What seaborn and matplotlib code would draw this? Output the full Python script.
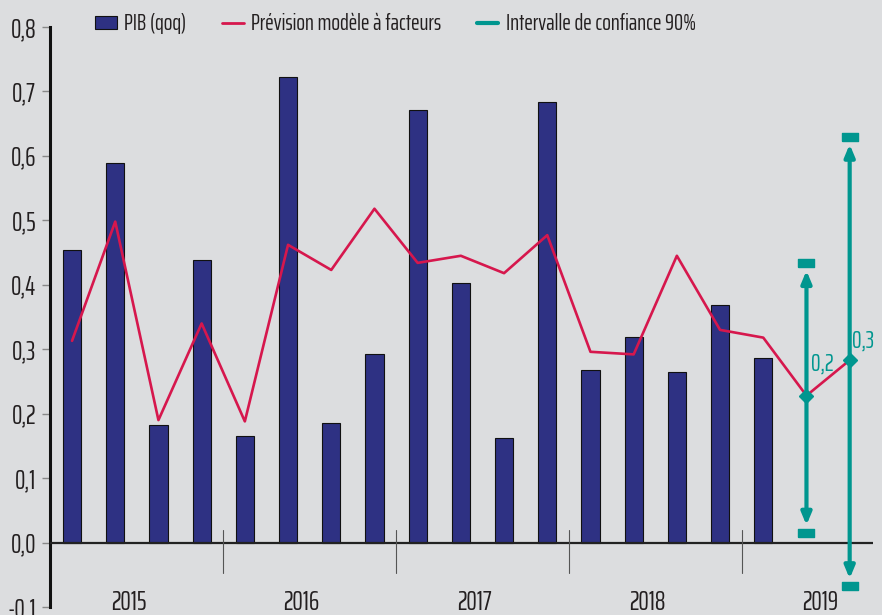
import matplotlib
matplotlib.use("Agg")
import matplotlib.pyplot as plt
import seaborn as sns
import pandas as pd
import numpy as np
from matplotlib.patches import Patch
from matplotlib.lines import Line2D

# ---- data ----
years = ["2015", "2016", "2017", "2018", "2019"]
pib_qoq = [0.454, 0.589, 0.183, 0.439,
           0.166, 0.722, 0.186, 0.293,
           0.671, 0.403, 0.163, 0.684,
           0.268, 0.319, 0.265, 0.369,
           0.287]
prevision = [0.313, 0.498, 0.190, 0.340,
             0.188, 0.462, 0.423, 0.518,
             0.434, 0.445, 0.418, 0.477,
             0.296, 0.292, 0.445, 0.330,
             0.318, 0.228, 0.283]
forecast_labels = ["0,2", "0,3"]
ci_low = [0.015, -0.068]
ci_high = [0.434, 0.630]
yticks = [-0.1, 0.0, 0.1, 0.2, 0.3, 0.4, 0.5, 0.6, 0.7, 0.8]

# ---- style ----
BG = "#dcdddf"
NAVY = "#2e3183"
RED = "#d6174d"
TEAL = "#00968f"
TXT = "#231f20"
FS = 16.5
FS_AX = 19

sns.set_theme(style="white")
plt.rcParams["font.family"] = ["Saira ExtraCondensed", "DejaVu Sans"]
plt.rcParams["font.weight"] = "normal"

fig = plt.figure(figsize=(8.82, 6.15), dpi=100, facecolor=BG)
ax = fig.add_axes([50/882, (615-607)/615, (873-50)/882, (607-27)/615])
ax.set_facecolor(BG)

n_bar = len(pib_qoq)
n_line = len(prevision)
df_bar = pd.DataFrame({"q": np.arange(n_bar), "v": pib_qoq})
df_line = pd.DataFrame({"q": np.arange(n_line), "v": prevision})

sns.barplot(data=df_bar, x="q", y="v", native_scale=True, width=0.42,
            color=NAVY, saturation=1, edgecolor="#111111", linewidth=0.8, ax=ax, zorder=2)
sns.lineplot(data=df_line, x="q", y="v", color=RED, linewidth=1.9, ax=ax, zorder=3)

# confidence intervals
fq = np.arange(n_line - len(ci_low), n_line)
rect = [(-1, -0.55), (1, -0.55), (1, 0.55), (-1, 0.55), (-1, -0.55)]
for i, x in enumerate(fq):
    yc = prevision[x]
    for end in (ci_high[i], ci_low[i]):
        tip = end - 0.012 if end > yc else end + 0.012
        ax.annotate("", xy=(x, tip), xytext=(x, yc),
                    arrowprops=dict(arrowstyle="-|>,head_length=0.6,head_width=0.25",
                                    color=TEAL, lw=3, shrinkA=0, shrinkB=0),
                    annotation_clip=False, zorder=4)
    ax.plot([x, x], [ci_low[i], ci_high[i]], linestyle="none", marker=rect,
            markersize=11, color=TEAL, clip_on=False, zorder=5)
    ax.plot([x], [yc], marker="D", markersize=7, color=TEAL, clip_on=False, zorder=6)

ax.annotate(forecast_labels[0], xy=(fq[0], prevision[fq[0]]), xytext=(3, 23),
            textcoords="offset points", color=TEAL, fontsize=17.5, va="center", ha="left")
ax.annotate(forecast_labels[1], xy=(fq[1], prevision[fq[1]]), xytext=(2, 14),
            textcoords="offset points", color=TEAL, fontsize=17.5, va="center", ha="left")

# zero line and year separators
ax.axhline(0, color="#222222", lw=1.6, zorder=3)
for k in range(1, len(years)):
    ax.plot([4*k - 0.5]*2, [0.02, -0.047], color="#555555", lw=0.8, zorder=3)
for k, y in enumerate(years):
    ax.text(4*k + 1.5 - 0.19, -0.093, y, ha="center", va="center",
            fontsize=FS_AX, color=TXT)

ax.set_xlim(-0.51, 18.54)
ax.set_ylim(-0.1, 0.8)
ax.set_yticks(yticks)
ax.set_yticklabels([f"{t:.1f}".replace(".", ",") for t in yticks], fontsize=FS_AX, color=TXT)
ax.set_xticks([])
ax.set_xlabel("")
ax.set_ylabel("")
ax.tick_params(axis="y", direction="out", length=6, width=1, color="#888888", pad=4, left=True)
for s in ["top", "right", "bottom"]:
    ax.spines[s].set_visible(False)
ax.spines["left"].set_color("#111111")
ax.spines["left"].set_linewidth(2.2)

handles = [Patch(facecolor=NAVY, edgecolor="#111111", linewidth=0.8),
           Line2D([0], [0], color=RED, lw=2),
           Line2D([0], [0], color=TEAL, lw=3)]
labels = ["PIB (qoq)", "Prévision modèle à facteurs", "Intervalle de confiance 90%"]
fig.legend(handles, labels, loc="center left", bbox_to_anchor=(86/882, 1 - 24/615),
           ncol=3, frameon=False, fontsize=FS, handlelength=0.95, handleheight=0.5,
           handletextpad=0.32, columnspacing=1.55, labelcolor=TXT, borderaxespad=0)

fig.savefig("out.png", dpi=100, facecolor=BG)
